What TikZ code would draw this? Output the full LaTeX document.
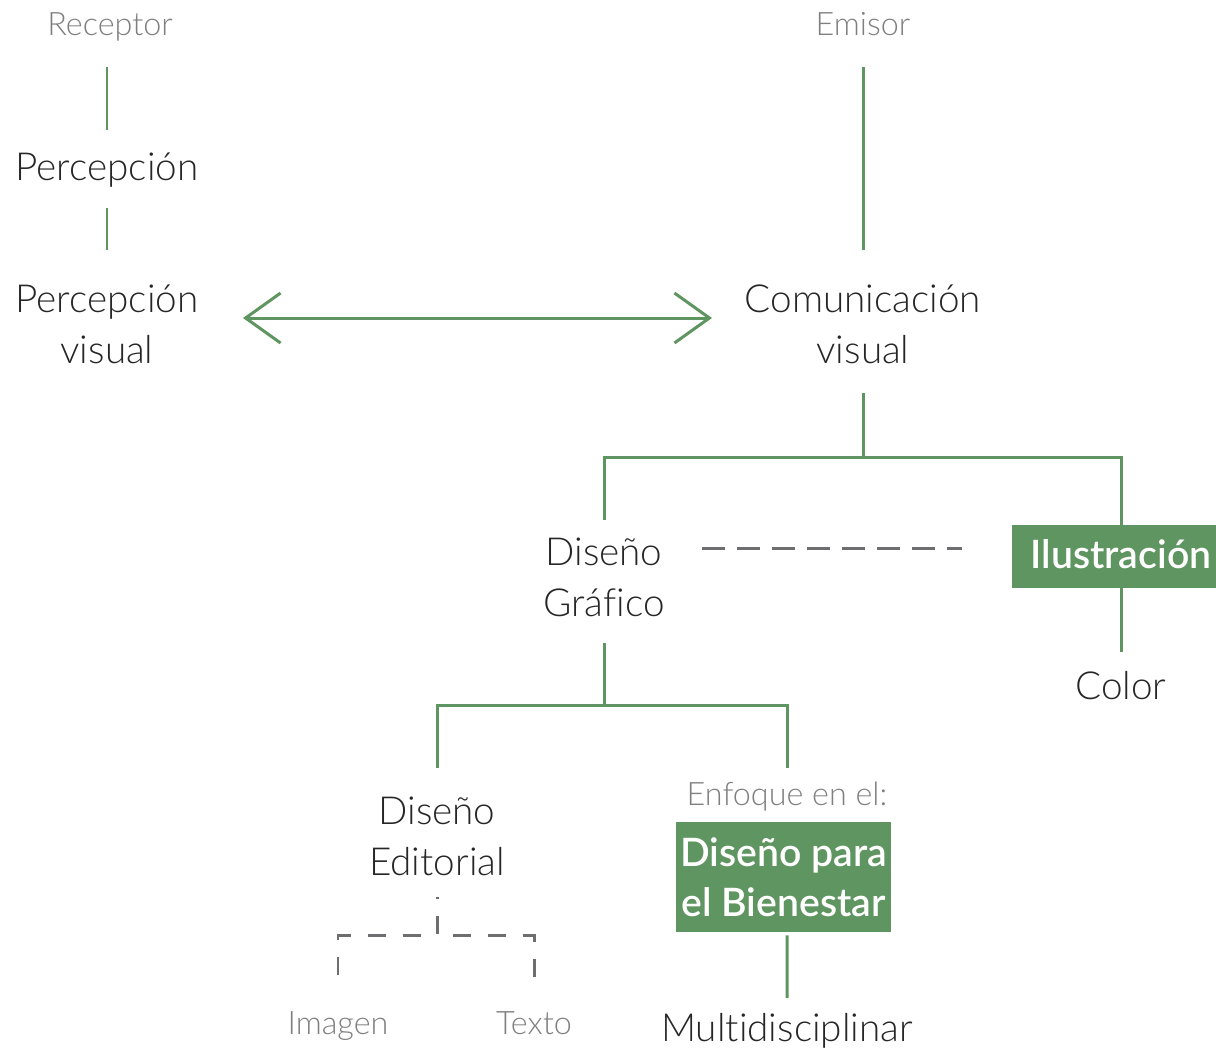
\documentclass[tikz,border=0pt]{standalone}
\usepackage{fontspec}
\setmainfont{Lato}[UprightFont=* Light, BoldFont=* Semibold, Ligatures=NoCommon]
\usetikzlibrary{calc,arrows.meta}
\definecolor{leaf}{HTML}{5F9560}
\definecolor{ink}{HTML}{262626}
\definecolor{soft}{HTML}{7F7F7F}
\definecolor{dashgray}{HTML}{6E6E70}
\begin{document}
\begin{tikzpicture}[x=0.02cm,y=-0.02cm,
  link/.style={draw=leaf, line width=1.7pt},
  dlink/.style={draw=dashgray, line width=1.7pt, dash pattern=on 0.46cm off 0.24cm},
  dlinks/.style={draw=dashgray, line width=1.7pt, dash pattern=on 0.36cm off 0.34cm},
  main/.style={font=\fontsize{22}{29}\selectfont, text=ink, align=center, inner sep=0pt},
  note/.style={font=\fontsize{18.4}{22}\selectfont, text=soft, inner sep=0pt, anchor=base},
  tag/.style={fill=leaf, text=white, font=\bfseries\fontsize{22.3}{28.5}\selectfont, align=center, inner sep=0pt}
]
\clip (0,0) rectangle (1216,1055);
\useasboundingbox (0,0) rectangle (1216,1055);

% receiver column
\node[note] (recep) at (110,35) {Receptor};
\node[main] (perc) at (107,170) {Percepción};
\node[main] (pv) at (107,324.5) {Percepción\\visual};

% sender column
\node[note] (emis) at (863,35) {Emisor};
\node[main] (cv) at (863,324.5) {Comunicación\\visual};

% design branches
\node[main] (dg) at (604,577.5) {Diseño\\Gráfico};
\node[tag, minimum width=4.36cm, minimum height=1.26cm, text depth=0.1cm] (ilu) at (1121,556.5) {Ilustración};
\node[main] (color) at (1121,686) {Color};
\node[main] (de) at (437,836.5) {Diseño\\Editorial};
\node[note] (enf) at (787,805) {Enfoque en el:};
\node[tag, minimum width=4.3cm, minimum height=2.2cm] (dpb) at (783.5,877) {Diseño para\\el Bienestar};
\node[main] (multi) at (787,1031) {Multidisciplinar};
\node[note] (img) at (338,1034) {Imagen};
\node[note] (txt) at (534,1034) {Texto};

% junctions
\coordinate (j1) at (863,457);
\coordinate (j2) at (604,705);
\coordinate (j3) at (437,935);

% green connectors
\draw[link] ($(recep.base)+(-3,32)$) -- ($(perc)+(0,-40)$);
\draw[link] ($(perc)+(0,38)$) -- ($(pv)+(0,-74.5)$);
\draw[link] ($(emis.base)+(0,32)$) -- ($(cv)+(0,-74.5)$);
\draw[link, {Straight Barb[length=0.7cm,width=1cm]}-{Straight Barb[length=0.7cm,width=1cm]}]
  ($(pv)+(136,-6.5)$) -- ($(cv)+(-151,-6.5)$);
\draw[link] ($(cv)+(0,68.5)$) -- (j1);
\draw[link] ($(dg)+(0,-57.5)$) |- (j1) -| (ilu.north);
\draw[link] (ilu.south) -- ($(color)+(0,-34)$);
\draw[link] ($(dg)+(0,65.5)$) -- (j2);
\draw[link] ($(de)+(0,-68.5)$) |- (j2) -| ($(enf.base)+(0,-37)$);
\draw[link] ($(dpb.south)+(3.5,3)$) -- ($(multi)+(0,-33)$);

% grey dashed relations
\draw[dlink] ($(dg)+(98,-29.5)$) -- ($(ilu.west)+(-50,-8.5)$);
\draw[dlinks, dash phase=0.32cm] ($(de)+(0,60.5)$) -- (j3) -| ($(img.base)+(0,-52)$);
\draw[dlinks, dash phase=0.32cm] ($(de)+(0,60.5)$) -- (j3) -| ($(txt.base)+(0,-52)$);
\end{tikzpicture}
\end{document}
